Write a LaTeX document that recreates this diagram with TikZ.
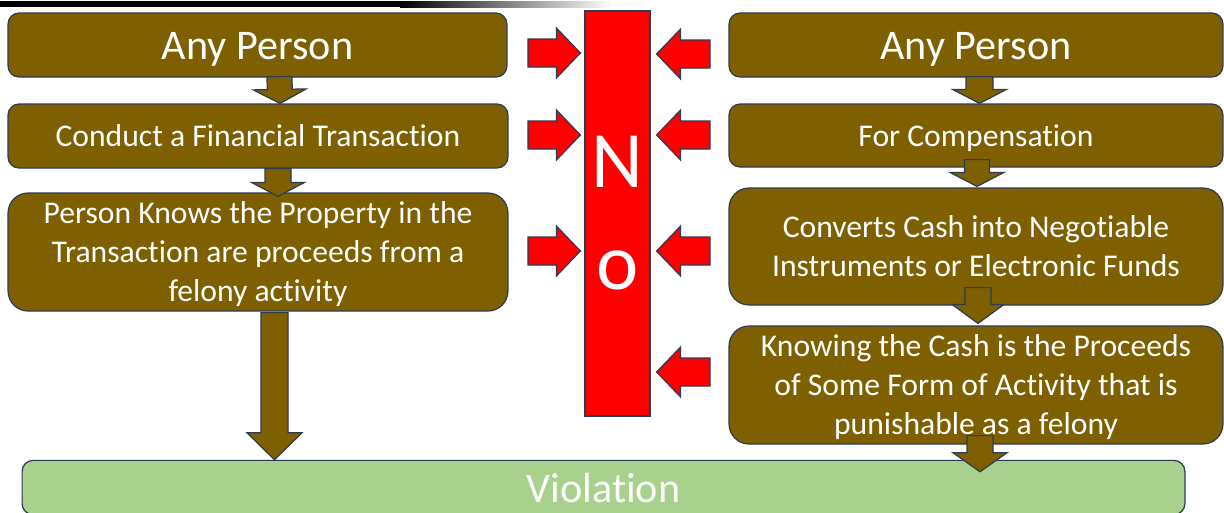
\documentclass[tikz,border=0pt]{standalone}
\usepackage{fontspec}
\setmainfont{Carlito}[Ligatures=NoCommon]
\usetikzlibrary{calc}

\definecolor{boxbrown}{HTML}{7F6000}
\definecolor{edgeblue}{HTML}{2E3B55}
\definecolor{nored}{HTML}{FF0000}
\definecolor{violgreen}{HTML}{A9D18E}

\newcommand{\linestrut}{\rule[-5.5pt]{0pt}{23pt}}

\tikzset{
    stepbox/.style={draw=edgeblue, line width=0.7pt, fill=boxbrown, text=white,
        align=center, inner sep=0pt, rounded corners=0.22cm},
    bigtext/.style={font=\fontsize{24}{29}\selectfont,
        execute at begin node={\rule[-7pt]{0pt}{30.9pt}},
        execute at end node={\rule[-7pt]{0pt}{30.9pt}}},
    smalltext/.style={font=\fontsize{18}{22}\selectfont,
        execute at begin node={\linestrut},
        execute at end node={\linestrut}},
    brownarrow/.style={draw=edgeblue, line width=0.7pt, fill=boxbrown, line join=miter},
    redarrow/.style={draw=edgeblue, line width=0.7pt, fill=nored, line join=miter},
}

% block arrow: style, from, to, head length, shaft half width, head half width
\newcommand{\blockarrow}[6]{%
    \coordinate (hb) at ($(#3)!#4!(#2)$);
    \draw[#1] ($(#2)!#5!90:(#3)$) -- ($(hb)!#5!90:(#3)$) -- ($(hb)!#6!90:(#3)$)
        -- (#3) -- ($(hb)!#6!-90:(#3)$) -- ($(hb)!#5!-90:(#3)$)
        -- ($(#2)!#5!-90:(#3)$) -- cycle;
}

\begin{document}
\begin{tikzpicture}[x=0.02cm, y=-0.02cm]
    \useasboundingbox (0,0) rectangle (1224,512);

    % top rule
    \fill[black] (0,1) rectangle (400,7);
    \shade[left color=black, right color=white] (400,1) rectangle (612,7);

    % left column
    \node[stepbox, bigtext, minimum width=9.98cm, minimum height=1.28cm] (l1) at (257.5,45) {Any Person};
    \node[stepbox, smalltext, minimum width=10cm, minimum height=1.28cm] (l2) at (258,136) {Conduct a Financial Transaction};
    \node[stepbox, smalltext, rounded corners=0.4cm, minimum width=10cm, minimum height=2.36cm] (l3) at (258,252)
        {\linestrut Person Knows the Property in the\\Transaction are proceeds from a\\felony activity};

    % right column
    \node[stepbox, bigtext, minimum width=9.88cm, minimum height=1.28cm] (r1) at (976,45) {Any Person};
    \node[stepbox, smalltext, minimum width=9.88cm, minimum height=1.26cm] (r2) at (976,135.5) {For Compensation};
    \node[stepbox, smalltext, rounded corners=0.4cm, minimum width=9.88cm, minimum height=2.34cm] (r3) at (976,246.5)
        {\linestrut Converts Cash into Negotiable\\Instruments or Electronic Funds};
    \node[stepbox, smalltext, rounded corners=0.4cm, minimum width=9.88cm, minimum height=2.36cm] (r4) at (976,385)
        {\linestrut Knowing the Cash is the Proceeds\\of Some Form of Activity that is\\punishable as a felony};

    % bottom
    \node[stepbox, bigtext, fill=violgreen, minimum width=23.26cm, minimum height=1.06cm] (v) at (603.5,487.5) {Violation};

    % the bar
    \node[draw=edgeblue, line width=0.7pt, fill=nored, text=white, align=center, inner sep=0pt,
        minimum width=1.3cm, minimum height=8.1cm, font=\fontsize{45.5}{58}\selectfont] (bar) at (617.5,213.5) {N\\o};

    % brown arrows, left
    \coordinate (d1a) at ($(l1.south)+(22,-1)$);
    \coordinate (d1b) at ($(l2.north)+(22,0)$);
    \blockarrow{brownarrow}{d1a}{d1b}{0.28cm}{0.25cm}{0.53cm}
    \coordinate (d2a) at ($(l2.south)+(20,0)$);
    \coordinate (d2b) at ($(l3.north)+(20,4)$);
    \blockarrow{brownarrow}{d2a}{d2b}{0.28cm}{0.26cm}{0.53cm}
    \coordinate (d3a) at ($(l3.south)+(16.5,1)$);
    \coordinate (d3b) at (d3a |- v.north);
    \blockarrow{brownarrow}{d3a}{d3b}{0.54cm}{0.27cm}{0.55cm}

    % brown arrows, right
    \coordinate (d4a) at ($(r1.south)+(3.5,-1)$);
    \coordinate (d4b) at ($(r2.north)+(3.5,0)$);
    \blockarrow{brownarrow}{d4a}{d4b}{0.28cm}{0.27cm}{0.54cm}
    \coordinate (d5a) at ($(r2.south)+(1,-8)$);
    \coordinate (d5b) at ($(r3.north)+(1,-1)$);
    \blockarrow{brownarrow}{d5a}{d5b}{0.28cm}{0.25cm}{0.54cm}
    \coordinate (d6a) at ($(r3.south)+(2,-18)$);
    \coordinate (d6b) at ($(r4.north)+(2,-2)$);
    \blockarrow{brownarrow}{d6a}{d6b}{0.38cm}{0.26cm}{0.52cm}
    \coordinate (d7a) at ($(r4.south)+(4,-9)$);
    \coordinate (d7b) at ($(d7a |- v.north)+(0,12)$);
    \blockarrow{brownarrow}{d7a}{d7b}{0.38cm}{0.26cm}{0.54cm}

    % red arrows into the bar
    \foreach \i/\yy in {1/53,2/135,3/251}{
        \coordinate (ls\i) at (528,\yy);
        \coordinate (lt\i) at ($(bar.west |- ls\i)+(-4,0)$);
        \blockarrow{redarrow}{ls\i}{lt\i}{0.48cm}{0.28cm}{0.5cm}
    }
    \foreach \i/\yy in {1/54,2/135,3/251,4/372}{
        \coordinate (rs\i) at (710,\yy);
        \coordinate (rt\i) at ($(bar.east |- rs\i)+(6,0)$);
        \blockarrow{redarrow}{rs\i}{rt\i}{0.48cm}{0.28cm}{0.5cm}
    }
\end{tikzpicture}
\end{document}
